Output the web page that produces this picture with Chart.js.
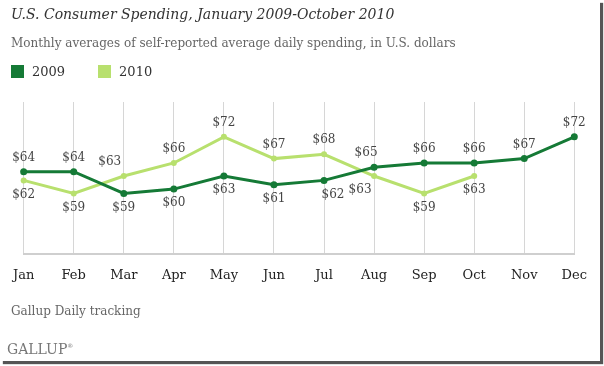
<!DOCTYPE html>
<html>
<head>
<meta charset="utf-8">
<script src="https://cdn.jsdelivr.net/npm/chart.js@4"></script>
<style>
  html, body { margin: 0; padding: 0; background: #fff; }
  #frame {
    position: absolute; left: 0; top: 0; width: 600px; height: 361px;
    background: #fff;
    box-shadow: 3px 3px 1px #555;
  }
  #chart { position: absolute; left: 0; top: 0; }
  .txt { position: absolute; font-family: "DejaVu Serif", serif; white-space: nowrap; }
  #title { left: 11px; top: 6px; font-size: 14px; font-style: italic; color: #333; }
  #sub { left: 11px; top: 36px; font-size: 12px; color: #666; }
  #legend { left: 11px; top: 64px; font-size: 13px; color: #333; }
  #legend span.sw { display: inline-block; width: 13px; height: 13px; vertical-align: -2px; margin-right: 8px; }
  #legend span.item { margin-right: 33px; }
  #src { left: 11px; top: 304px; font-size: 12px; color: #666; }
  #logo { left: 7px; top: 341px; font-size: 14px; color: #777; }
</style>
</head>
<body>
<div id="frame">
  <canvas id="chart" width="600" height="361"></canvas>
  <div class="txt" id="title">U.S. Consumer Spending, January 2009-October 2010</div>
  <div class="txt" id="sub">Monthly averages of self-reported average daily spending, in U.S. dollars</div>
  <div class="txt" id="legend"></div>
  <div class="txt" id="src">Gallup Daily tracking</div>
  <div class="txt" id="logo">GALLUP<sup style="font-size:6px">&reg;</sup></div>
</div>
<script>
(() => {
  'use strict'

  const months = ['Jan', 'Feb', 'Mar', 'Apr', 'May', 'Jun', 'Jul', 'Aug', 'Sep', 'Oct', 'Nov', 'Dec']
  const spending2009 = [64, 64, 59, 60, 63, 61, 62, 65, 66, 66, 67, 72]
  const spending2010 = [62, 59, 63, 66, 72, 67, 68, 63, 59, 63]

  const green2009 = '#157a36'
  const green2010 = '#b8e06e'

  // legend
  const legend = document.getElementById('legend')
  legend.innerHTML =
    '<span class="item"><span class="sw" style="background:' + green2009 + '"></span>2009</span>' +
    '<span class="item"><span class="sw" style="background:' + green2010 + '"></span>2010</span>'

  // small sideways shifts for labels near the crossings
  const labelShift = { '0-6': 9, '0-7': -8, '1-7': -14, '1-2': -14 }

  const valueLabels = {
    id: 'valueLabels',
    afterDatasetsDraw(chart) {
      const ctx = chart.ctx
      const sets = chart.data.datasets
      ctx.save()
      ctx.font = '12px "DejaVu Serif", serif'
      ctx.fillStyle = '#444'
      ctx.textAlign = 'center'
      ctx.textBaseline = 'middle'
      sets.forEach((ds, di) => {
        const other = sets[1 - di].data
        chart.getDatasetMeta(di).data.forEach((pt, i) => {
          const v = ds.data[i]
          const above = other[i] === undefined || v >= other[i]
          const dx = labelShift[di + '-' + i] || 0
          ctx.fillText('$' + v, pt.x + dx, pt.y + (above ? -14 : 14))
        })
      })
      ctx.restore()
    }
  }

  new Chart(document.getElementById('chart'), {
    type: 'line',
    data: {
      labels: months,
      datasets: [{
        label: '2009',
        data: spending2009,
        borderColor: green2009,
        backgroundColor: green2009,
        borderWidth: 3,
        pointRadius: 3.5,
        pointBorderWidth: 0,
        tension: 0
      }, {
        label: '2010',
        data: spending2010,
        borderColor: green2010,
        backgroundColor: green2010,
        borderWidth: 3,
        pointRadius: 3,
        pointBorderWidth: 0,
        tension: 0
      }]
    },
    options: {
      responsive: false,
      animation: false,
      layout: { padding: { left: 22, right: 22, top: 102, bottom: 65 } },
      plugins: {
        legend: { display: false },
        tooltip: { enabled: false }
      },
      scales: {
        x: {
          offset: false,
          grid: { color: '#d6d6d6', lineWidth: 1, drawTicks: false },
          border: { display: true, color: '#cfcfcf', width: 2 },
          ticks: {
            color: '#222',
            padding: 13,
            font: { family: 'DejaVu Serif', size: 13 }
          }
        },
        y: {
          display: false,
          min: 45,
          max: 80
        }
      }
    },
    plugins: [valueLabels]
  })
})()
</script>
</body>
</html>
